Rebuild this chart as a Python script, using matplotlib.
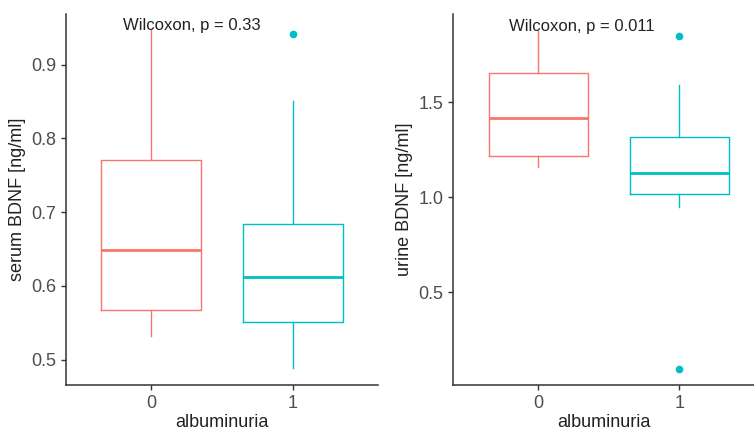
import matplotlib
matplotlib.use("Agg")
import matplotlib.pyplot as plt

plt.rcParams["font.family"] = ["Liberation Sans", "DejaVu Sans"]

groups = ["0", "1"]
colors = ["#F8766D", "#00BFC4"]

# five-number summaries per albuminuria group: whislo, q1, median, q3, whishi
serum_stats = [[0.532, 0.567, 0.649, 0.771, 0.948],
               [0.488, 0.551, 0.612, 0.684, 0.851]]
serum_outliers = [[], [0.942]]
serum_p = "Wilcoxon, p = 0.33"

urine_stats = [[1.161, 1.217, 1.417, 1.656, 1.872],
               [0.947, 1.016, 1.129, 1.319, 1.593]]
urine_outliers = [[], [1.847, 0.098]]
urine_p = "Wilcoxon, p = 0.011"


def draw_panel(ax, stats, outliers, ylabel, ptext, ylim, yticks, xlim, pxy):
    for i, (s, fl) in enumerate(zip(stats, outliers)):
        d = dict(whislo=s[0], q1=s[1], med=s[2], q3=s[3], whishi=s[4], fliers=fl)
        c = colors[i]
        ax.bxp([d], positions=[i], widths=0.7, showcaps=False,
               boxprops=dict(color=c, linewidth=1.0),
               whiskerprops=dict(color=c, linewidth=1.0),
               medianprops=dict(color=c, linewidth=2),
               flierprops=dict(marker="o", markersize=4.5, markerfacecolor=c,
                               markeredgecolor=c))
    ax.set_xlim(*xlim)
    ax.set_ylim(*ylim)
    ax.set_yticks(yticks)
    ax.set_xticks(range(len(groups)))
    ax.set_xticklabels(groups)
    ax.set_xlabel("albuminuria", fontsize=13, color="#222222", labelpad=2)
    ax.set_ylabel(ylabel, fontsize=13, color="#222222", labelpad=4)
    ax.tick_params(labelsize=13, colors="#333333", length=3.5, width=1, labelcolor="#4D4D4D")
    for side in ["top", "right"]:
        ax.spines[side].set_visible(False)
    for side in ["left", "bottom"]:
        ax.spines[side].set_color("#333333")
        ax.spines[side].set_linewidth(1.1)
    ax.text(pxy[0], pxy[1], ptext, ha="center", va="center", fontsize=12, color="#222222")


fig = plt.figure(figsize=(7.54, 4.32), dpi=100)
ax1 = fig.add_axes([0.0875, 0.109, 0.414, 0.859])
ax2 = fig.add_axes([0.601, 0.109, 0.399, 0.859])

draw_panel(ax1, serum_stats, serum_outliers, "serum BDNF [ng/ml]", serum_p,
           (0.4656, 0.969), [0.5, 0.6, 0.7, 0.8, 0.9], (-0.6, 1.6), (0.29, 0.953))
draw_panel(ax2, urine_stats, urine_outliers, "urine BDNF [ng/ml]", urine_p,
           (0.012, 1.965), [0.5, 1.0, 1.5], (-0.6, 1.527), (0.31, 1.90))
ax2.set_yticklabels(["0.5", "1.0", "1.5"])

fig.savefig("out.png", dpi=100)
